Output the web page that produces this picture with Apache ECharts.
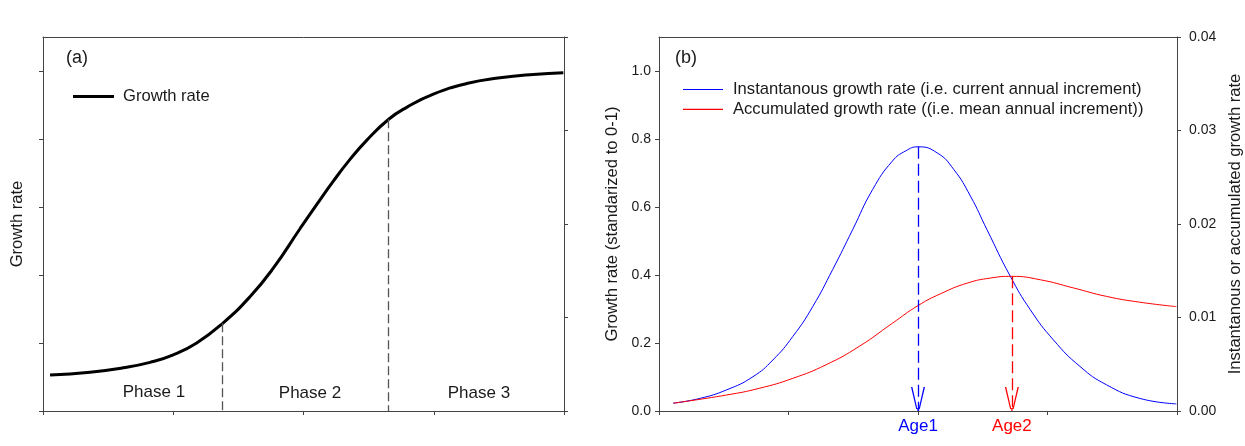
<!DOCTYPE html>
<html>
<head>
<meta charset="utf-8">
<script src="https://cdn.jsdelivr.net/npm/echarts@6/dist/echarts.min.js"></script>
<style>
html,body{margin:0;padding:0;background:#fff;}
#chart{width:1245px;height:446px;}
</style>
</head>
<body>
<div id="chart"></div>
<script>
// ---- data (panel a) ----
const growthX = [0.054,0.361,0.617,0.822,1.0,1.18,1.38,1.589,1.768,1.973,2.101,2.229,2.357,2.485,2.654,2.792,2.997,3.253,3.509,3.764,3.995];
const growthY = [0.106,0.114,0.127,0.143,0.165,0.200,0.258,0.336,0.420,0.536,0.607,0.676,0.740,0.796,0.858,0.893,0.932,0.963,0.980,0.990,0.995];
const phaseX = [1.38, 2.654];
const phaseY = [0.258, 0.858];
const phaseLabels = ['Phase 1', 'Phase 2', 'Phase 3'];
const phaseLabelX = [0.852, 2.05, 3.347];
const phaseLabelY = [0.055, 0.052, 0.052];

// ---- data (panel b) ----
const blueX = [0.11,0.315,0.521,0.726,0.879,1.033,1.187,1.341,1.495,1.649,1.802,1.905,2.0,2.149,2.277,2.405,2.533,2.713,2.867,3.046,3.251,3.456,3.713,3.995];
const blueY = [0.023,0.037,0.062,0.101,0.150,0.219,0.307,0.416,0.533,0.651,0.735,0.765,0.777,0.759,0.710,0.632,0.533,0.396,0.298,0.209,0.131,0.077,0.037,0.021];
const redX = [0.11,0.521,0.777,1.033,1.29,1.546,1.802,2.0,2.175,2.379,2.559,2.725,2.944,3.2,3.456,3.713,3.995];
const redY = [0.023,0.047,0.067,0.096,0.136,0.190,0.258,0.310,0.345,0.376,0.391,0.396,0.386,0.362,0.337,0.320,0.307];
const ageX = [2.0, 2.725];
const ageY = [0.777, 0.396];
const ageLabels = ['Age1', 'Age2'];

// ---- tick labels ----
const leftTicks = [0, 0.2, 0.4, 0.6, 0.8, 1.0];
const rightTicks = [0, 0.01, 0.02, 0.03, 0.04];
const seriesNames = ['Growth rate', 'Instantanous growth rate (i.e. current annual increment)', 'Accumulated growth rate ((i.e. mean annual increment))'];
const axisNames = ['Growth rate', 'Growth rate (standarized to 0-1)', 'Instantanous or accumulated growth rate'];

const FONT = '"Liberation Sans", Arial, sans-serif';
const AX = '#444';
const TXT = '#1a1a1a';
const FS = 16.6;
const zip = (xs, ys) => xs.map((x, i) => [x, ys[i]]);

const arrowPath = 'path://M5.2,2 L0,24 L1.4,24 L6.4,2 Z M8.8,2 L14,24 L12.6,24 L7.6,2 Z M6.4,0 L7.6,0 L7.6,3 L6.4,3 Z';

function xBottom(gi) {
  return {
    type: 'value', gridIndex: gi, position: 'bottom', min: 0, max: 4, interval: 1,
    axisLine: {show: true, onZero: false, lineStyle: {color: AX, width: 1}},
    axisTick: {show: true, inside: false, length: 4, lineStyle: {color: AX}},
    axisLabel: {show: false}, splitLine: {show: false}
  };
}
function xTop(gi) {
  return {
    type: 'value', gridIndex: gi, position: 'top', min: 0, max: 4,
    axisLine: {show: true, onZero: false, lineStyle: {color: AX, width: 1}},
    axisTick: {show: false}, axisLabel: {show: false}, splitLine: {show: false}
  };
}
function ageMarkLine(i, color) {
  return {
    silent: true, symbol: 'none',
    lineStyle: {color: color, width: 1.3, type: [12, 5]},
    data: [[
      {coord: [ageX[i], ageY[i]], symbol: 'none'},
      {coord: [ageX[i], 0], symbol: arrowPath, symbolSize: [14, 24], symbolOffset: [0, 12],
       label: {show: true, position: 'end', formatter: ageLabels[i], distance: 7,
               fontSize: 17, color: color, fontFamily: FONT}}
    ]]
  };
}

const option = {
  animation: false,
  backgroundColor: '#fff',
  textStyle: {fontFamily: FONT},
  grid: [
    {left: 43, top: 37, width: 521, height: 374},
    {left: 659, top: 37, width: 519, height: 374}
  ],
  xAxis: [xBottom(0), xTop(0), xBottom(1), xTop(1)],
  yAxis: [
    {
      type: 'value', gridIndex: 0, position: 'left', min: 0, max: 1.1, interval: 0.2,
      name: axisNames[0], nameLocation: 'middle', nameGap: 17,
      nameTextStyle: {fontSize: FS, color: TXT, fontFamily: FONT},
      axisLine: {show: true, onZero: false, lineStyle: {color: AX}},
      axisTick: {show: true, length: 4, customValues: leftTicks, lineStyle: {color: AX}},
      axisLabel: {show: false}, splitLine: {show: false}
    },
    {
      type: 'value', gridIndex: 0, position: 'right', min: 0, max: 0.04, interval: 0.01,
      axisLine: {show: true, onZero: false, lineStyle: {color: AX}},
      axisTick: {show: true, length: 4, lineStyle: {color: AX}},
      axisLabel: {show: false}, splitLine: {show: false}
    },
    {
      type: 'value', gridIndex: 1, position: 'left', min: 0, max: 1.1, interval: 0.2,
      name: axisNames[1], nameLocation: 'middle', nameGap: 38,
      nameTextStyle: {fontSize: FS, color: TXT, fontFamily: FONT},
      axisLine: {show: true, onZero: false, lineStyle: {color: AX}},
      axisTick: {show: true, length: 4, customValues: leftTicks, lineStyle: {color: AX}},
      axisLabel: {show: true, customValues: leftTicks, margin: 8, fontSize: 14, color: TXT, fontFamily: FONT,
        formatter: v => v.toFixed(1)},
      splitLine: {show: false}
    },
    {
      type: 'value', gridIndex: 1, position: 'right', min: 0, max: 0.04, interval: 0.01,
      name: axisNames[2], nameLocation: 'middle', nameGap: 50, nameRotate: 90,
      nameTextStyle: {fontSize: FS, color: TXT, fontFamily: FONT},
      axisLine: {show: true, onZero: false, lineStyle: {color: AX}},
      axisTick: {show: true, length: 4, customValues: rightTicks, lineStyle: {color: AX}},
      axisLabel: {show: true, customValues: rightTicks, margin: 12, fontSize: 14, color: TXT, fontFamily: FONT,
        formatter: v => v.toFixed(2)},
      splitLine: {show: false}
    }
  ],
  legend: [
    {
      data: [{name: seriesNames[0], icon: 'rect', itemStyle: {color: '#000'}}],
      left: 73, top: 88, orient: 'vertical', padding: 0,
      itemWidth: 41, itemHeight: 3, selectedMode: false,
      textStyle: {fontSize: FS, color: TXT, fontFamily: FONT, padding: [0, 0, 0, 4]}
    },
    {
      data: [{name: seriesNames[1], icon: 'rect', itemStyle: {color: '#0000ff'}},
             {name: seriesNames[2], icon: 'rect', itemStyle: {color: '#ff0000'}}],
      left: 683, top: 81, orient: 'vertical', padding: 0,
      itemWidth: 40, itemHeight: 1.2, itemGap: 2.8, selectedMode: false,
      textStyle: {fontSize: FS, color: TXT, fontFamily: FONT, padding: [0, 0, 0, 5]}
    }
  ],
  graphic: [
    {type: 'text', left: 66, top: 49, style: {text: '(a)', font: '18px ' + FONT, fill: TXT}},
    {type: 'text', left: 675, top: 49, style: {text: '(b)', font: '18px ' + FONT, fill: TXT}}
  ],
  series: [
    {
      name: seriesNames[0], type: 'line', xAxisIndex: 0, yAxisIndex: 0,
      data: zip(growthX, growthY), smooth: 0.5, symbol: 'none',
      lineStyle: {color: '#000', width: 3}, itemStyle: {color: '#000'},
      markLine: {
        silent: true, symbol: ['none', 'none'],
        lineStyle: {color: '#555', width: 1.3, type: [9, 4]},
        label: {show: false},
        data: phaseX.map((x, i) => [{coord: [x, phaseY[i]]}, {coord: [x, 0]}])
      },
      markPoint: {
        silent: true, symbol: 'circle', symbolSize: 0,
        data: phaseLabels.map((t, i) => ({
          coord: [phaseLabelX[i], phaseLabelY[i]],
          label: {show: true, formatter: t, position: 'inside', fontSize: 17, color: TXT, fontFamily: FONT}
        }))
      }
    },
    {
      name: seriesNames[1], type: 'line', xAxisIndex: 2, yAxisIndex: 2,
      data: zip(blueX, blueY), smooth: 0.5, symbol: 'none',
      lineStyle: {color: '#0000ff', width: 1}, itemStyle: {color: '#0000ff'},
      markLine: ageMarkLine(0, '#0000ff')
    },
    {
      name: seriesNames[2], type: 'line', xAxisIndex: 2, yAxisIndex: 2,
      data: zip(redX, redY), smooth: 0.5, symbol: 'none',
      lineStyle: {color: '#ff0000', width: 1}, itemStyle: {color: '#ff0000'},
      markLine: ageMarkLine(1, '#ff0000')
    }
  ]
};

const chart = echarts.init(document.getElementById('chart'), null, {renderer: 'canvas'});
chart.setOption(option);
</script>
</body>
</html>
